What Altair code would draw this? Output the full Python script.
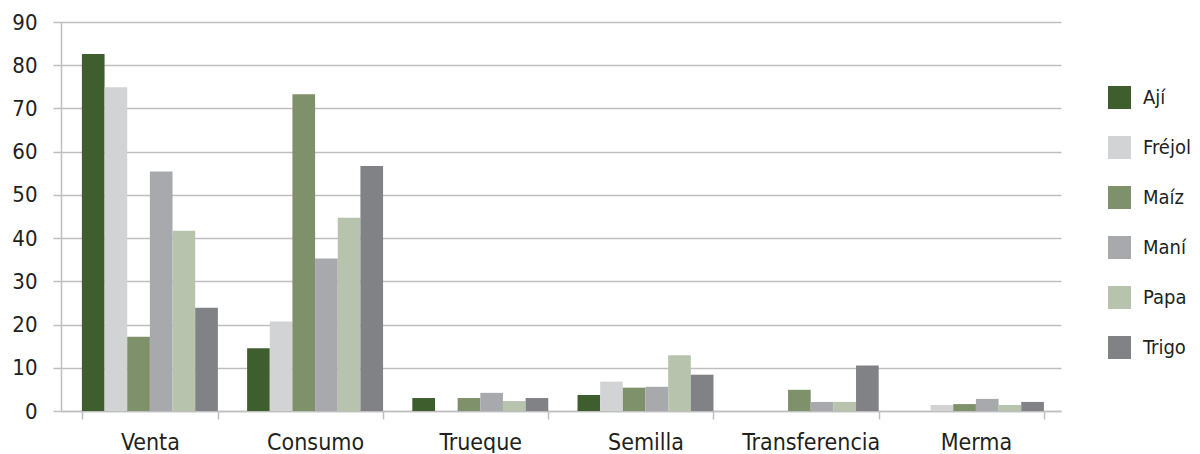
import altair as alt
import pandas as pd

categories = ["Venta", "Consumo", "Trueque", "Semilla", "Transferencia", "Merma"]
crops = ["Ají", "Fréjol", "Maíz", "Maní", "Papa", "Trigo"]
colors = ["#3F5E2D", "#D2D3D5", "#7F916A", "#A8A9AD", "#B8C3AD", "#818285"]

aji = [82.6, 14.5, 3.0, 3.7, 0.0, 0.0]
frejol = [74.9, 20.7, 0.0, 6.8, 0.0, 1.4]
maiz = [17.2, 73.3, 3.0, 5.4, 4.9, 1.6]
mani = [55.4, 35.3, 4.2, 5.6, 2.1, 2.8]
papa = [41.7, 44.7, 2.3, 12.9, 2.1, 1.4]
trigo = [23.9, 56.7, 3.0, 8.4, 10.5, 2.1]

series = [aji, frejol, maiz, mani, papa, trigo]
rows = []
for crop, vals in zip(crops, series):
    for cat, v in zip(categories, vals):
        rows.append({"destino": cat, "cultivo": crop, "valor": v})
df = pd.DataFrame(rows)

FONT = "DejaVu Sans Condensed, Liberation Sans, sans-serif"
GRID = "#BFBFBF"
TXT = "#231F20"

chart = alt.Chart(df).mark_bar().encode(
    x=alt.X("destino:N", sort=categories, title=None,
            scale=alt.Scale(paddingInner=0.177, paddingOuter=0.115, align=0.55),
            axis=alt.Axis(labelAngle=0, tickBand="extent", domainColor=GRID,
                          domainWidth=1.5, tickColor=GRID, tickWidth=1.5,
                          tickSize=8, labelFontSize=23, labelFont=FONT,
                          labelColor=TXT, labelPadding=12, grid=False)),
    xOffset=alt.XOffset("cultivo:N", sort=crops, scale=alt.Scale(paddingInner=0, paddingOuter=0)),
    y=alt.Y("valor:Q", title=None,
            scale=alt.Scale(domain=[0, 90], nice=False),
            axis=alt.Axis(values=list(range(0, 91, 10)), grid=True, gridColor=GRID,
                          gridWidth=1.5, domainColor=GRID, domainWidth=1.5,
                          tickColor=GRID, tickWidth=1.5, tickSize=8,
                          labelFontSize=22, labelFont=FONT, labelColor=TXT,
                          labelPadding=16)),
    color=alt.Color("cultivo:N", sort=crops, title=None,
                    scale=alt.Scale(domain=crops, range=colors),
                    legend=alt.Legend(orient="none", legendX=1047, legendY=64,
                                      symbolType="square", symbolSize=529,
                                      symbolStrokeWidth=0, symbolOpacity=1,
                                      labelFontSize=20, labelFont=FONT,
                                      labelColor=TXT, labelOffset=12,
                                      rowPadding=27)),
).properties(
    width=1000, height=389,
    autosize=alt.AutoSizeParams(type="none"),
    padding={"left": 53, "top": 14, "right": 131, "bottom": 42},
).configure_view(stroke=None)

chart.save("out.html", embed_options={"renderer": "svg", "actions": False})
